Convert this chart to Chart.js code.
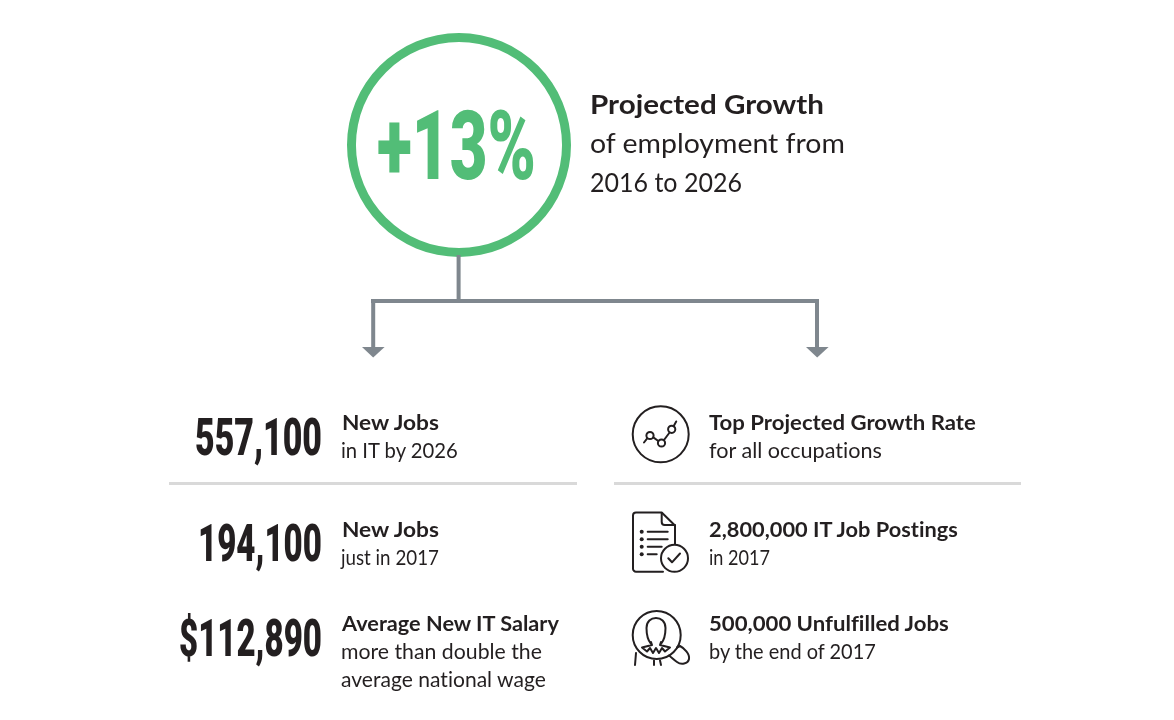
<!DOCTYPE html>
<html>
<head>
<meta charset="utf-8">
<script src="https://cdn.jsdelivr.net/npm/chart.js@4"></script>
<style>
  html, body { margin: 0; background: #fff; }
  #page { position: relative; width: 1174px; height: 720px; overflow: hidden; }
  #ring { position: absolute; left: 347px; top: 33px; }
  #overlay { position: absolute; left: 0; top: 0; }
  text { font-variant-ligatures: none; }
</style>
</head>
<body>
<div id="page">
  <canvas id="ring" width="224" height="224"></canvas>
  <svg id="overlay" width="1174" height="720" xmlns="http://www.w3.org/2000/svg">
    <!-- connector -->
    <g fill="#7f878e">
      <rect x="456.6" y="255" width="4" height="46"/>
      <rect x="371" y="299" width="448" height="4"/>
      <rect x="371.2" y="299" width="4" height="50"/>
      <rect x="815" y="299" width="4" height="50"/>
      <polygon points="362,347 384.6,347 373.2,357.5"/>
      <polygon points="806,347 828.6,347 817.2,357.5"/>
    </g>
    <!-- dividers -->
    <rect x="169" y="482" width="408" height="3" fill="#d9d9d9"/>
    <rect x="614" y="482" width="407" height="3" fill="#d9d9d9"/>
    <!-- icons -->
    <g fill="none" stroke="#231f20" stroke-width="2" stroke-linecap="round" stroke-linejoin="round">
      <circle cx="660.7" cy="434.3" r="28"/>
      <circle cx="650" cy="435.5" r="3.6"/>
      <circle cx="661.5" cy="443" r="3.6"/>
      <circle cx="671.7" cy="429.3" r="3.6"/>
      <path d="M644 442.5L647.4 438.2M653.3 437.4L658.3 441M664 440L669.6 432.5M673.6 426.2L676.2 421.5"/>

      <path d="M663 571.7H636a3 3 0 0 1 -3 -3V515.5a3 3 0 0 1 3 -3H661.7L675 525.5V544"/>
      <path d="M661.7 513V522a3 3 0 0 0 3 3H675"/>
      <path d="M647.7 531.7H667.7M647.7 539.3H667.7M647.7 546.7H661.7M647.7 554.3H656.7"/>
      <circle cx="674.5" cy="558.3" r="13.5"/>
      <path d="M668.3 558.3L672 562.3L680 553.5"/>

      <circle cx="656.7" cy="635" r="24"/>
      <path d="M651 644C647 639 646.5 633 646.5 628C646.5 621.5 651 618 656 618C661 618 665.5 621.5 665.5 628C665.5 633 665 639 661 644"/>
      <path d="M651 642L652 645L642 647.5L647 651.5L650 648L653 653L656 648L659 653L662 648L665 651.5L670 647.5L660 645L661 642"/>
      <path d="M635 665L636 653M654 660.5V665M660 660.5L661 665"/>
      <path d="M677 647.5L680 646C684 648 690 654 689 659C688 664 681 665 677 662C674 660 671 657 669 655.5"/>
    </g>
    <g fill="#231f20">
      <circle cx="641.7" cy="531.7" r="2"/>
      <circle cx="641.7" cy="539.3" r="2"/>
      <circle cx="641.7" cy="546.7" r="2"/>
      <circle cx="641.7" cy="554.3" r="2"/>
    </g>
    <g id="labels"></g>
  </svg>
</div>
<script>
const growthLabel = "+13%";
const growthRing = [100];

const headline = ["Projected Growth", "of employment from", "2016 to 2026"];

const statValues = ["557,100", "194,100", "$112,890"];
const statTitles = ["New Jobs", "New Jobs", "Average New IT Salary"];
const statNotes = [["in IT by 2026"], ["just in 2017"], ["more than double the", "average national wage"]];

const factTitles = ["Top Projected Growth Rate", "2,800,000 IT Job Postings", "500,000 Unfulfilled Jobs"];
const factNotes = ["for all occupations", "in 2017", "by the end of 2017"];

const sansFont = "Lato, 'Noto Sans', sans-serif";
const bigFont = "Roboto, sans-serif";
const darkText = "#231f20";
const green = "#52bd77";

new Chart(document.getElementById("ring").getContext("2d"), {
  type: "doughnut",
  data: {
    labels: ["Projected growth"],
    datasets: [{ data: growthRing, backgroundColor: green, borderWidth: 0 }],
  },
  options: {
    responsive: false,
    animation: false,
    cutout: "92%",
    events: [],
    plugins: { legend: { display: false }, tooltip: { enabled: false } },
  },
});

const labels = document.getElementById("labels");

// x, baseline and fitted width, so the fallback fonts land where the original does
function addText(str, x, y, width, size, weight, font, fill) {
  const t = document.createElementNS("http://www.w3.org/2000/svg", "text");
  t.textContent = str;
  t.setAttribute("font-size", size);
  t.setAttribute("font-weight", weight);
  t.setAttribute("font-family", font);
  t.setAttribute("fill", fill);
  labels.appendChild(t);
  const sx = width / t.getComputedTextLength();
  t.setAttribute("transform", "translate(" + x + "," + y + ") scale(" + sx + ",1)");
}

addText(growthLabel, 377, 179, 159, 97, 900, bigFont, green);

addText(headline[0], 590, 114, 234, 27, 700, sansFont, darkText);
addText(headline[1], 590, 153, 255, 27, 400, sansFont, darkText);
addText(headline[2], 590, 192, 152, 27, 400, sansFont, darkText);

const valueLefts = [195, 198, 179];
const valueBase = [455, 561, 656];
statValues.forEach((v, i) => addText(v, valueLefts[i], valueBase[i], 322 - valueLefts[i], 52, 900, bigFont, darkText));

const titleBase = [430, 537, 631];
const statTitleW = [97, 97, 217];
statTitles.forEach((v, i) => addText(v, 342, titleBase[i], statTitleW[i], 20.5, 700, sansFont, darkText));

const statNoteW = [[117], [98], [201, 205]];
statNotes.forEach((lines, i) => lines.forEach((v, j) => {
  addText(v, 341, titleBase[i] + 28 * (j + 1), statNoteW[i][j], 20.5, 400, sansFont, darkText);
}));

const factTitleW = [267, 249, 240];
factTitles.forEach((v, i) => addText(v, 709, titleBase[i], factTitleW[i], 20.5, 700, sansFont, darkText));

const factNoteW = [173, 61, 167];
factNotes.forEach((v, i) => addText(v, 709, titleBase[i] + 28, factNoteW[i], 20.5, 400, sansFont, darkText));
</script>
</body>
</html>
